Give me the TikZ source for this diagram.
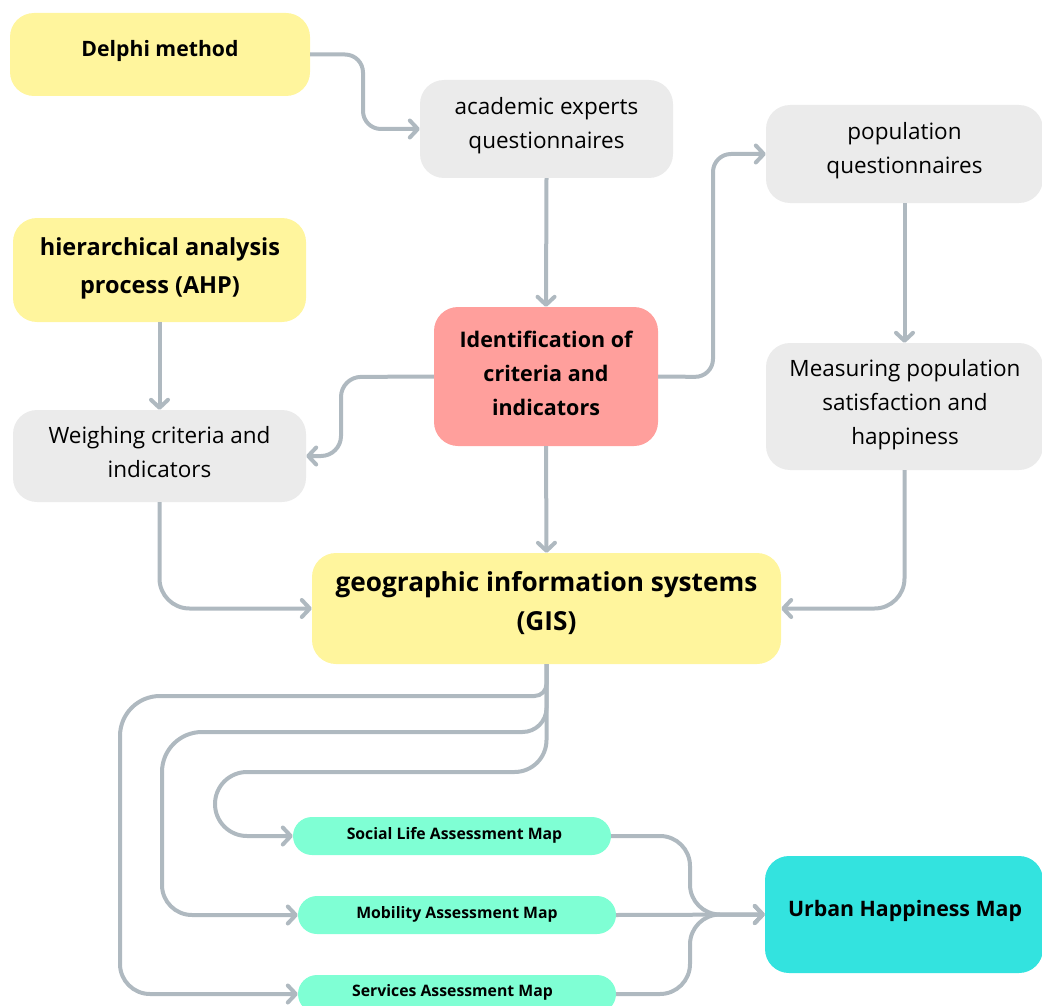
\documentclass[tikz,border=0pt]{standalone}
\usepackage{fontspec}
\setmainfont{Open Sans}
\usetikzlibrary{arrows.meta}
\definecolor{paleyellow}{HTML}{FFF59D}
\definecolor{softgray}{HTML}{EBEBEB}
\definecolor{salmon}{HTML}{FF9F9C}
\definecolor{mint}{HTML}{7FFFD4}
\definecolor{turq}{HTML}{33E3DF}
\definecolor{wire}{HTML}{AFB9C0}
\begin{document}
\begin{tikzpicture}[x=1pt,y=-1pt,
  box/.style={rounded corners=24pt, inner sep=0pt},
  yellowbox/.style={box, fill=paleyellow},
  graybox/.style={box, fill=softgray},
  mapbox/.style={box, fill=mint, rounded corners=19pt, minimum width=318pt,
    minimum height=38pt},
  txt/.style={align=center, inner sep=0pt, text=black},
  plaintxt/.style={txt, font=\fontsize{22.5}{34}\selectfont},
  boldtxt/.style={txt, font=\bfseries\fontsize{#1}{34}\selectfont},
  maptxt/.style={txt, font=\bfseries\fontsize{15.8}{16}\selectfont},
  conn/.style={draw=wire, line width=4pt,
    -{Straight Barb[length=8pt,width=17pt,round]}}
]
\useasboundingbox (0,0) rectangle (1042,1006);

% ---- boxes ----
\node[yellowbox, minimum width=300pt, minimum height=83pt] (delphi) at (160,54.5) {};
\node[graybox, minimum width=253pt, minimum height=98pt] (academic) at (546.5,129) {};
\node[graybox, minimum width=277pt, minimum height=98pt] (pop) at (904.5,154) {};
\node[yellowbox, minimum width=293pt, minimum height=104pt] (ahp) at (159.5,270) {};
\node[box, fill=salmon, minimum width=224pt, minimum height=139pt] (ident) at (546,376.5) {};
\node[graybox, minimum width=293pt, minimum height=92pt] (weigh) at (159.5,456) {};
\node[graybox, minimum width=277pt, minimum height=127pt] (meas) at (904.5,406.5) {};
\node[yellowbox, minimum width=469pt, minimum height=111pt] (gis) at (546.5,608.5) {};
\node[mapbox] (social) at (452,836) {};
\node[mapbox] (mobility) at (457,915) {};
\node[mapbox] (services) at (457,994) {};
\node[box, fill=turq, minimum width=278pt, minimum height=117pt] (urban) at (904,914.5) {};

% ---- box texts ----
\node[boldtxt=21.2] (delphiT) at (160,51) {Delphi method};
\node[plaintxt] (academicT) at (546.5,125.5) {academic experts\\questionnaires};
\node[plaintxt] (popT) at (904.5,151) {population\\questionnaires};
\node[txt, font=\bfseries\fontsize{23.5}{38}\selectfont] (ahpT) at (160,268) {hierarchical analysis\\process (AHP)};
\node[boldtxt=21.5] (identT) at (546,373.5) {Identification of\\criteria and\\indicators};
\node[plaintxt] (weighT) at (159.5,452.5) {Weighing criteria and\\indicators};
\node[plaintxt] (measT) at (905,405) {Measuring population\\satisfaction and\\happiness};
\node[txt, font=\bfseries\fontsize{26.2}{39}\selectfont] (gisT) at (546.5,603.5) {geographic information systems\\(GIS)};
\node[maptxt] (socialT) at (454.5,835) {Social Life Assessment Map};
\node[maptxt] (mobilityT) at (457,914.5) {Mobility Assessment Map};
\node[maptxt] (servicesT) at (452.5,992) {Services Assessment Map};
\node[txt, font=\bfseries\fontsize{21.3}{30}\selectfont] (urbanT) at (905,911) {Urban Happiness Map};

% ---- connectors ----
\draw[conn, rounded corners=18pt] (delphi.east) -- (363,54.5) -- (363,129) -- (academic.west);
\draw[conn] (academic.south) -- (ident.north);
\draw[conn, rounded corners=18pt] (ident.east) -- (713,377) -- (713,154) -- (pop.west);
\draw[conn, rounded corners=20pt] (ident.west) -- (341,377) -- (341,456) -- (weigh.east);
\draw[conn] (ahp.south) -- (weigh.north);
\draw[conn] (pop.south) -- (meas.north);
\draw[conn] (ident.south) -- (gis.north);
\draw[conn, rounded corners=30pt] (weigh.south) -- (159.5,608.5) -- (gis.west);
\draw[conn, rounded corners=30pt] (meas.south) -- (904.5,608.5) -- (gis.east);

% GIS fans out to the three assessment maps
\draw[conn] (gis.south) [rounded corners=12pt] -- (546.5,696)
  [rounded corners=40pt] -- (120,696) [rounded corners=30pt] -- (120,994) -- (services.west);
\draw[conn] (gis.south) [rounded corners=24pt] -- (546.5,732)
  [rounded corners=40pt] -- (162,732) [rounded corners=30pt] -- (162,915) -- (mobility.west);
\draw[conn, rounded corners=32pt] (gis.south) -- (546.5,772) -- (215,772) -- (215,836) -- (social.west);

% assessment maps merge into the final map
\draw[conn, rounded corners=30pt] (social.east) -- (690,836) -- (690,914.5) -- (urban.west);
\draw[conn] (mobility.east) -- (urban.west);
\draw[conn, rounded corners=30pt] (services.east) -- (690,994) -- (690,914.5) -- (urban.west);
\end{tikzpicture}
\end{document}
